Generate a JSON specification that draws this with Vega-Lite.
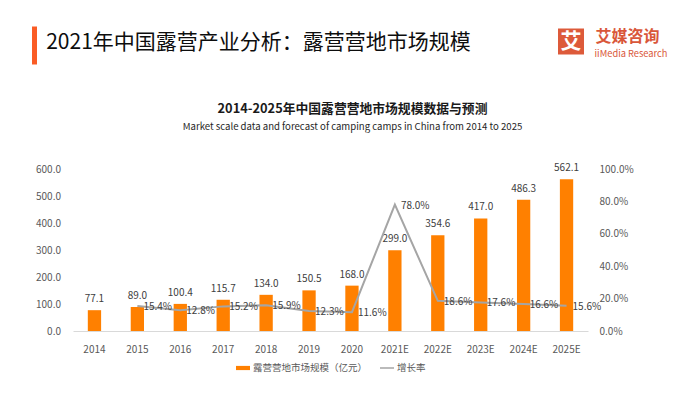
{
  "$schema": "https://vega.github.io/schema/vega-lite/v6.json",
  "padding": {"left": 31, "top": 26, "right": 0, "bottom": 0},
  "background": "white",
  "resolve": {"legend": {"fill": "independent", "stroke": "independent"}},
  "spacing": 35,
  "vconcat": [
    {
      "spacing": 10,
      "hconcat": [
        {
          "width": 371,
          "height": 38,
          "data": {"values": [{}]},
          "layer": [
            {
              "mark": {"type": "point", "opacity": 0},
              "encoding": {
                "y": {
                  "datum": 0,
                  "type": "quantitative",
                  "scale": {"domain": [0, 1]},
                  "axis": {
                    "title": null,
                    "labels": false,
                    "ticks": false,
                    "grid": false,
                    "domainColor": "#FA5C25",
                    "domainWidth": 5,
                    "domainCap": "butt",
                    "offset": 39,
                    "minExtent": 0,
                    "maxExtent": 0
                  }
                }
              }
            },
            {
              "mark": {"type": "text", "text": "2021年中国露营产业分析：露营营地市场规模", "align": "center", "baseline": "middle", "dy": -2, "fontSize": 21, "color": "#0d0d0d"},
              "encoding": {}
            }
          ]
        },
        {
          "width": 67,
          "height": 38,
          "data": {"values": [{}]},
          "mark": {"type": "text", "text": ""},
          "encoding": {}
        },
        {
          "width": 26,
          "height": 31,
          "data": {"values": [{}]},
          "layer": [
            {"mark": {"type": "square", "size": 676, "color": "#DD5A3A", "opacity": 1}, "encoding": {}},
            {"mark": {"type": "text", "text": "艾", "color": "white", "fontSize": 21, "fontWeight": "bold", "align": "center", "baseline": "middle"}, "encoding": {}}
          ]
        },
        {
          "width": 64,
          "height": 31,
          "data": {"values": [{}]},
          "layer": [
            {"mark": {"type": "text", "text": "艾媒咨询", "color": "#D9573A", "fontSize": 16, "fontWeight": "bold", "align": "center", "baseline": "middle", "dx": -3.5, "dy": -5}, "encoding": {}},
            {"mark": {"type": "text", "text": "iiMedia Research", "color": "#D9573A", "fontSize": 9.3, "align": "center", "baseline": "middle", "dy": 12}, "encoding": {}}
          ]
        }
      ]
    },
    {
      "width": 515,
      "height": 162,
      "title": {
        "text": "2014-2025年中国露营营地市场规模数据与预测",
        "subtitle": "Market scale data and forecast of camping camps in China from 2014 to 2025",
        "fontSize": 12.8,
        "fontWeight": "bold",
        "color": "#1a1a1a",
        "subtitleFontSize": 9.6,
        "subtitleColor": "#262626",
        "subtitlePadding": 6,
        "anchor": "middle",
        "offset": 32,
        "dx": 22
      },
      "data": {
        "values": [
          {"year": "2014", "scale": 77.1, "rate": null},
          {"year": "2015", "scale": 89.0, "rate": 0.154},
          {"year": "2016", "scale": 100.4, "rate": 0.128},
          {"year": "2017", "scale": 115.7, "rate": 0.152},
          {"year": "2018", "scale": 134.0, "rate": 0.159},
          {"year": "2019", "scale": 150.5, "rate": 0.123},
          {"year": "2020", "scale": 168.0, "rate": 0.116},
          {"year": "2021E", "scale": 299.0, "rate": 0.780},
          {"year": "2022E", "scale": 354.6, "rate": 0.186},
          {"year": "2023E", "scale": 417.0, "rate": 0.176},
          {"year": "2024E", "scale": 486.3, "rate": 0.166},
          {"year": "2025E", "scale": 562.1, "rate": 0.156}
        ]
      },
      "encoding": {
        "x": {
          "field": "year",
          "type": "ordinal",
          "sort": null,
          "scale": {"paddingInner": 0, "paddingOuter": 0},
          "axis": {
            "title": null,
            "labelAngle": 0,
            "ticks": false,
            "grid": false,
            "domainColor": "#D9D9D9",
            "labelPadding": 13,
            "labelColor": "#595959",
            "labelFontSize": 10
          }
        }
      },
      "layer": [
        {
          "encoding": {
            "y": {
              "field": "scale",
              "type": "quantitative",
              "scale": {"domain": [0, 600]},
              "axis": {
                "title": null,
                "values": [0, 100, 200, 300, 400, 500, 600],
                "format": ".1f",
                "grid": false,
                "domain": false,
                "ticks": false,
                "labelPadding": 12.5,
                "labelColor": "#595959",
                "labelFontSize": 10,
                "minExtent": 41.5
              }
            }
          },
          "layer": [
            {
              "mark": {"type": "bar", "width": {"band": 0.31}},
              "encoding": {
                "fill": {
                  "datum": "露营营地市场规模（亿元）",
                  "scale": {"range": ["#FF8000"]},
                  "legend": {
                    "orient": "bottom",
                    "title": null,
                    "symbolType": "M-1,-0.3H1V0.3H-1Z",
                    "symbolSize": 196,
                    "labelFontSize": 9.5,
                    "labelColor": "#595959",
                    "labelOffset": 2,
                    "padding": 0,
                    "offset": 6
                  }
                }
              }
            },
            {
              "mark": {"type": "text", "baseline": "bottom", "dy": -6, "fontSize": 10, "color": "#404040"},
              "encoding": {"text": {"field": "scale", "format": ".1f"}}
            }
          ]
        },
        {
          "encoding": {
            "y": {
              "field": "rate",
              "type": "quantitative",
              "scale": {"domain": [0, 1]},
              "axis": {
                "orient": "right",
                "title": null,
                "values": [0, 0.2, 0.4, 0.6, 0.8, 1],
                "format": ".1%",
                "grid": false,
                "domain": false,
                "ticks": false,
                "labelPadding": 11,
                "labelColor": "#595959",
                "labelFontSize": 10
              }
            }
          },
          "layer": [
            {
              "mark": {"type": "line", "strokeWidth": 2},
              "encoding": {
                "stroke": {
                  "datum": "增长率",
                  "scale": {"range": ["#A5A5A5"]},
                  "legend": {
                    "orient": "bottom",
                    "title": null,
                    "symbolType": "stroke",
                    "symbolSize": 196,
                    "symbolStrokeWidth": 1.5,
                    "labelFontSize": 9.5,
                    "labelColor": "#595959",
                    "labelOffset": 2,
                    "padding": 0,
                    "offset": 6
                  }
                }
              }
            },
            {
              "mark": {"type": "text", "align": "left", "baseline": "middle", "dx": 6, "dy": 1, "fontSize": 10, "color": "#404040"},
              "encoding": {"text": {"field": "rate", "format": ".1%"}}
            }
          ]
        }
      ],
      "resolve": {"scale": {"y": "independent"}}
    }
  ],
  "config": {
    "font": "Noto Sans CJK SC",
    "view": {"stroke": null},
    "legend": {"layout": {"bottom": {"anchor": "middle", "direction": "horizontal", "margin": 11}}}
  }
}
